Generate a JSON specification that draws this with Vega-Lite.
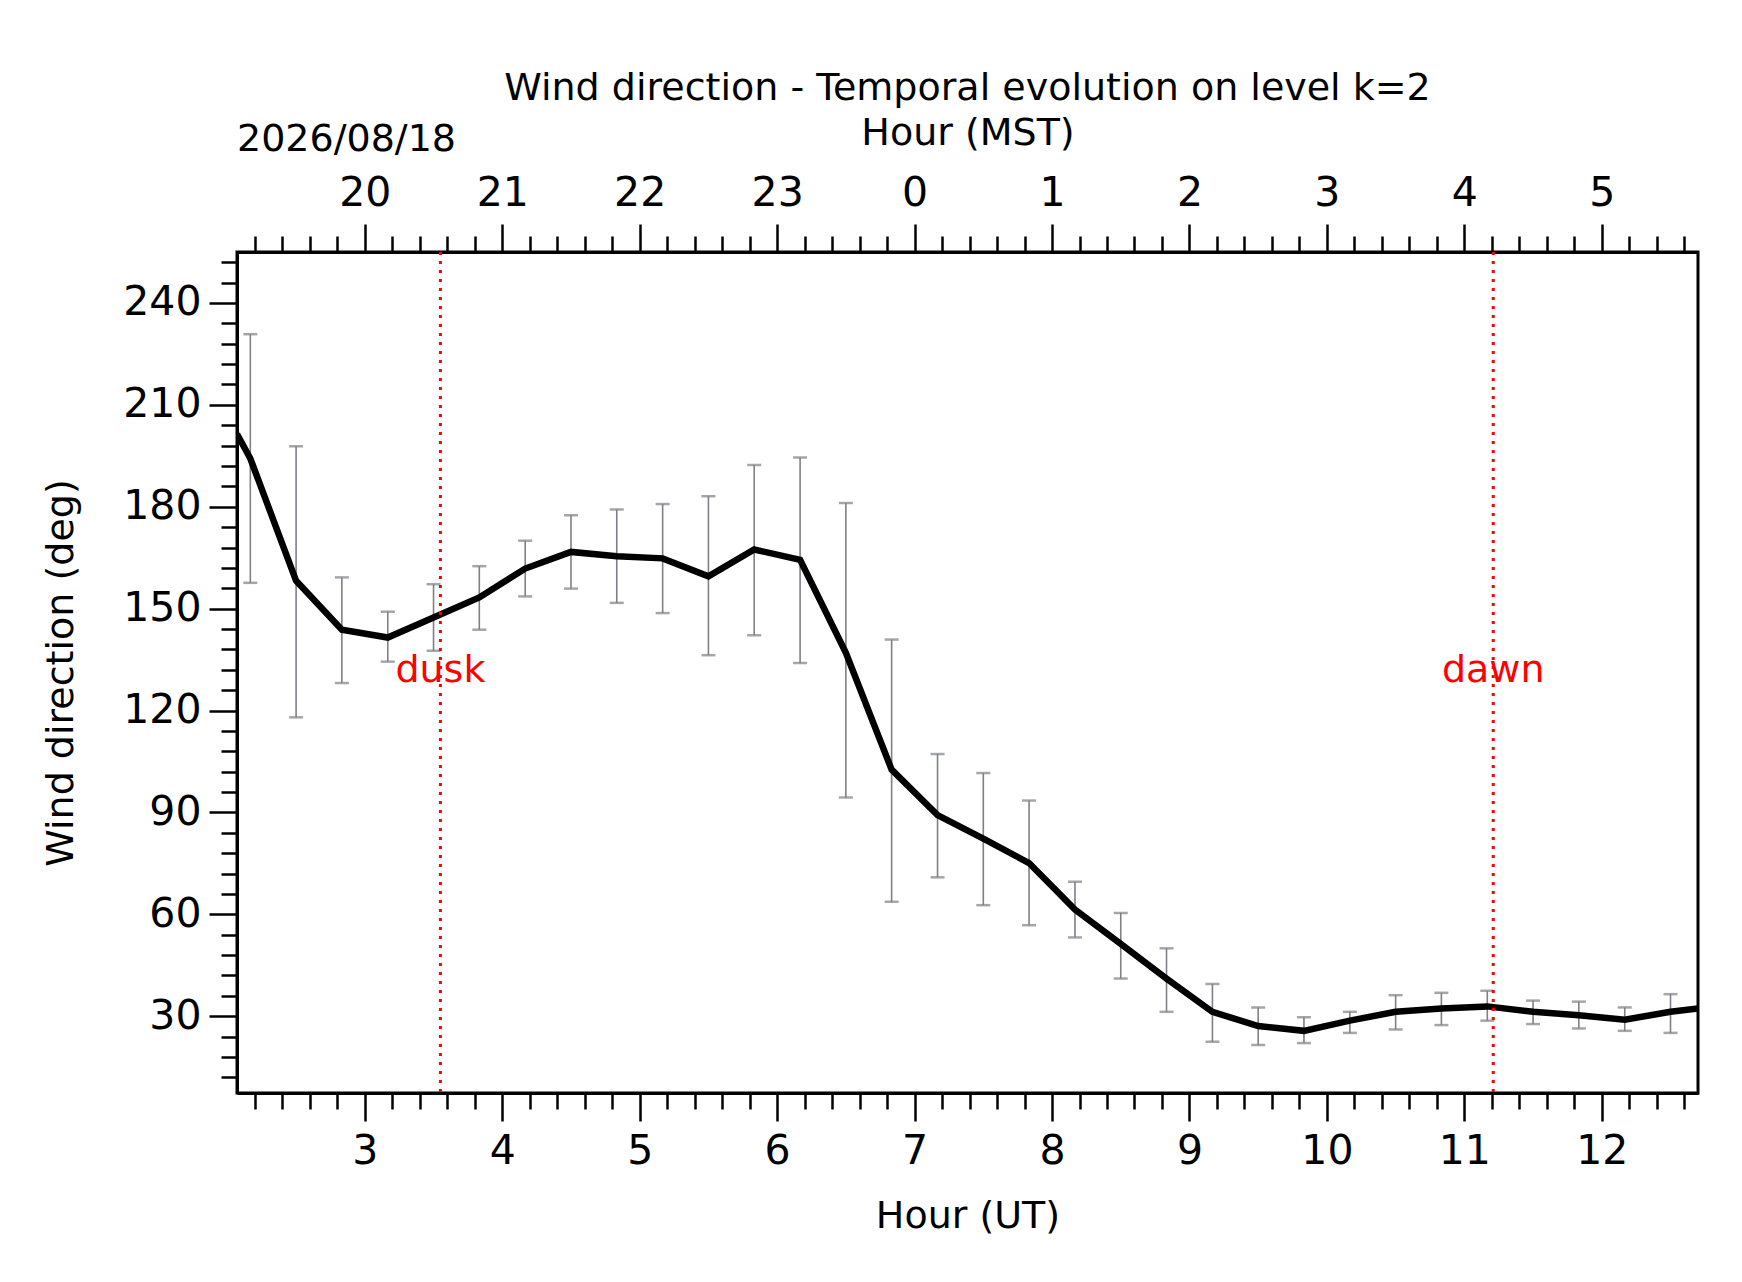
{
  "$schema": "https://vega.github.io/schema/vega-lite/v6.json",
  "width": 1461,
  "height": 841,
  "autosize": {"type": "none"},
  "padding": {"left": 237, "top": 252, "right": 44, "bottom": 189},
  "title": {"text": "Wind direction - Temporal evolution on level k=2", "fontSize": 38, "fontWeight": "normal", "font": "DejaVu Sans", "offset": 6, "color": "black"},
  "datasets": {
    "wind": [
      {"hour": 2.07, "dir": 201.4},
      {"hour": 2.167, "dir": 194.2, "hi": 230.8, "lo": 157.6},
      {"hour": 2.5, "dir": 158.2, "hi": 197.8, "lo": 118.0},
      {"hour": 2.833, "dir": 143.8, "hi": 159.2, "lo": 128.1},
      {"hour": 3.167, "dir": 141.5, "hi": 149.1, "lo": 134.4},
      {"hour": 3.5, "dir": 147.4, "hi": 157.2, "lo": 137.6},
      {"hour": 3.833, "dir": 153.3, "hi": 162.5, "lo": 143.8},
      {"hour": 4.167, "dir": 161.8, "hi": 170.0, "lo": 153.6},
      {"hour": 4.5, "dir": 166.7, "hi": 177.5, "lo": 155.9},
      {"hour": 4.833, "dir": 165.4, "hi": 179.2, "lo": 151.7},
      {"hour": 5.167, "dir": 164.8, "hi": 180.8, "lo": 148.7},
      {"hour": 5.5, "dir": 159.5, "hi": 183.1, "lo": 136.3},
      {"hour": 5.833, "dir": 167.4, "hi": 192.3, "lo": 142.2},
      {"hour": 6.167, "dir": 164.4, "hi": 194.5, "lo": 134.0},
      {"hour": 6.5, "dir": 137.0, "hi": 181.1, "lo": 94.4},
      {"hour": 6.833, "dir": 102.6, "hi": 140.9, "lo": 63.7},
      {"hour": 7.167, "dir": 89.2, "hi": 107.2, "lo": 70.9},
      {"hour": 7.5, "dir": 82.3, "hi": 101.6, "lo": 62.7},
      {"hour": 7.833, "dir": 75.1, "hi": 93.5, "lo": 56.8},
      {"hour": 8.167, "dir": 61.4, "hi": 69.6, "lo": 53.2},
      {"hour": 8.5, "dir": 51.3, "hi": 60.4, "lo": 41.1},
      {"hour": 8.833, "dir": 41.1, "hi": 50.0, "lo": 31.3},
      {"hour": 9.167, "dir": 31.3, "hi": 39.5, "lo": 22.5},
      {"hour": 9.5, "dir": 27.1, "hi": 32.6, "lo": 21.5},
      {"hour": 9.833, "dir": 25.7, "hi": 29.7, "lo": 22.1},
      {"hour": 10.167, "dir": 28.7, "hi": 31.3, "lo": 25.1},
      {"hour": 10.5, "dir": 31.3, "hi": 36.2, "lo": 26.1},
      {"hour": 10.833, "dir": 32.3, "hi": 36.9, "lo": 27.4},
      {"hour": 11.167, "dir": 32.9, "hi": 37.5, "lo": 28.7},
      {"hour": 11.5, "dir": 31.3, "hi": 34.6, "lo": 27.7},
      {"hour": 11.833, "dir": 30.3, "hi": 34.3, "lo": 26.4},
      {"hour": 12.167, "dir": 29.0, "hi": 32.6, "lo": 25.7},
      {"hour": 12.5, "dir": 31.3, "hi": 36.5, "lo": 25.1},
      {"hour": 12.7, "dir": 32.3}
    ],
    "events": [
      {"hour": 3.55, "label": "dusk", "dir": 131.7},
      {"hour": 11.21, "label": "dawn", "dir": 131.7}
    ],
    "date": [{"hour": 2.07, "dir": 288, "label": "2026/08/18"}]
  },
  "layer": [
    {
      "data": {"name": "wind"},
      "transform": [{"filter": "isValid(datum.hi)"}],
      "mark": {"type": "errorbar", "ticks": {"size": 14, "thickness": 2.5}, "rule": {"strokeWidth": 1.6}, "color": "#7f8087"},
      "encoding": {
        "x": {"field": "hour", "type": "quantitative", "scale": {"domain": [2.07, 12.7], "nice": false, "zero": false},
          "axis": {"orient": "bottom", "values": [2.2,2.4,2.6,2.8,3.2,3.4,3.6,3.8,4.2,4.4,4.6,4.8,5.2,5.4,5.6,5.8,6.2,6.4,6.6,6.8,7.2,7.4,7.6,7.8,8.2,8.4,8.6,8.8,9.2,9.4,9.6,9.8,10.2,10.4,10.6,10.8,11.2,11.4,11.6,11.8,12.2,12.4,12.6], "labels": false, "title": null, "domain": false, "grid": false, "tickSize": 16}},
        "y": {"field": "hi", "type": "quantitative", "scale": {"domain": [7.4, 255], "nice": false, "zero": false},
          "axis": {"orient": "left", "values": [12,18,24,36,42,48,54,66,72,78,84,96,102,108,114,126,132,138,144,156,162,168,174,186,192,198,204,216,222,228,234,246,252], "labels": false, "title": null, "domain": false, "grid": false, "tickSize": 16}},
        "y2": {"field": "lo"}
      }
    },
    {
      "data": {"name": "wind"},
      "mark": {"type": "line", "color": "black", "strokeWidth": 6.5, "clip": true},
      "encoding": {
        "x": {"field": "hour", "type": "quantitative", "scale": {"domain": [2.07, 12.7], "nice": false, "zero": false},
          "axis": {"orient": "bottom", "values": [3,4,5,6,7,8,9,10,11,12], "title": "Hour (UT)", "titlePadding": 26, "labelPadding": 10, "grid": false, "tickSize": 28}},
        "y": {"field": "dir", "type": "quantitative", "scale": {"domain": [7.4, 255], "nice": false, "zero": false},
          "axis": {"orient": "left", "values": [30,60,90,120,150,180,210,240], "title": "Wind direction (deg)", "titlePadding": 42, "labelPadding": 8, "grid": false, "tickSize": 28}}
      }
    },
    {
      "data": {"name": "events"},
      "mark": {"type": "rule", "color": "red", "strokeWidth": 3, "strokeDash": [3, 6]},
      "encoding": {
        "x": {"field": "hour", "type": "quantitative", "scale": {"domain": [2.07, 12.7], "nice": false, "zero": false},
          "axis": {"orient": "top", "values": [3,4,5,6,7,8,9,10,11,12], "labelExpr": "(datum.value + 17) % 24", "title": "Hour (MST)", "titlePadding": 20, "labelPadding": 10, "grid": false, "tickSize": 28}}
      }
    },
    {
      "data": {"name": "events"},
      "mark": {"type": "text", "color": "red", "fontSize": 38, "align": "center", "baseline": "middle"},
      "encoding": {
        "x": {"field": "hour", "type": "quantitative", "scale": {"domain": [2.07, 12.7], "nice": false, "zero": false},
          "axis": {"orient": "top", "values": [2.2,2.4,2.6,2.8,3.2,3.4,3.6,3.8,4.2,4.4,4.6,4.8,5.2,5.4,5.6,5.8,6.2,6.4,6.6,6.8,7.2,7.4,7.6,7.8,8.2,8.4,8.6,8.8,9.2,9.4,9.6,9.8,10.2,10.4,10.6,10.8,11.2,11.4,11.6,11.8,12.2,12.4,12.6], "labels": false, "title": null, "domain": false, "grid": false, "tickSize": 16}},
        "y": {"field": "dir", "type": "quantitative", "scale": {"domain": [7.4, 255], "nice": false, "zero": false}, "axis": null},
        "text": {"field": "label"}
      }
    },
    {
      "data": {"name": "date"},
      "mark": {"type": "text", "color": "black", "fontSize": 38, "align": "left", "baseline": "middle", "clip": false},
      "encoding": {
        "x": {"field": "hour", "type": "quantitative", "scale": {"domain": [2.07, 12.7], "nice": false, "zero": false}, "axis": null},
        "y": {"field": "dir", "type": "quantitative", "scale": {"domain": [7.4, 255], "nice": false, "zero": false}, "axis": null},
        "text": {"field": "label"}
      }
    }
  ],
  "resolve": {"scale": {"x": "independent", "y": "independent"}, "axis": {"x": "independent", "y": "independent"}},
  "config": {
    "font": "DejaVu Sans",
    "view": {"stroke": "black", "strokeWidth": 3},
    "axis": {"domainColor": "black", "domainWidth": 3, "tickColor": "black", "tickWidth": 2.5, "labelColor": "black", "labelFontSize": 41, "titleFontSize": 38, "titleFontWeight": "normal", "titleColor": "black", "labelFont": "DejaVu Sans", "titleFont": "DejaVu Sans"}
  }
}
